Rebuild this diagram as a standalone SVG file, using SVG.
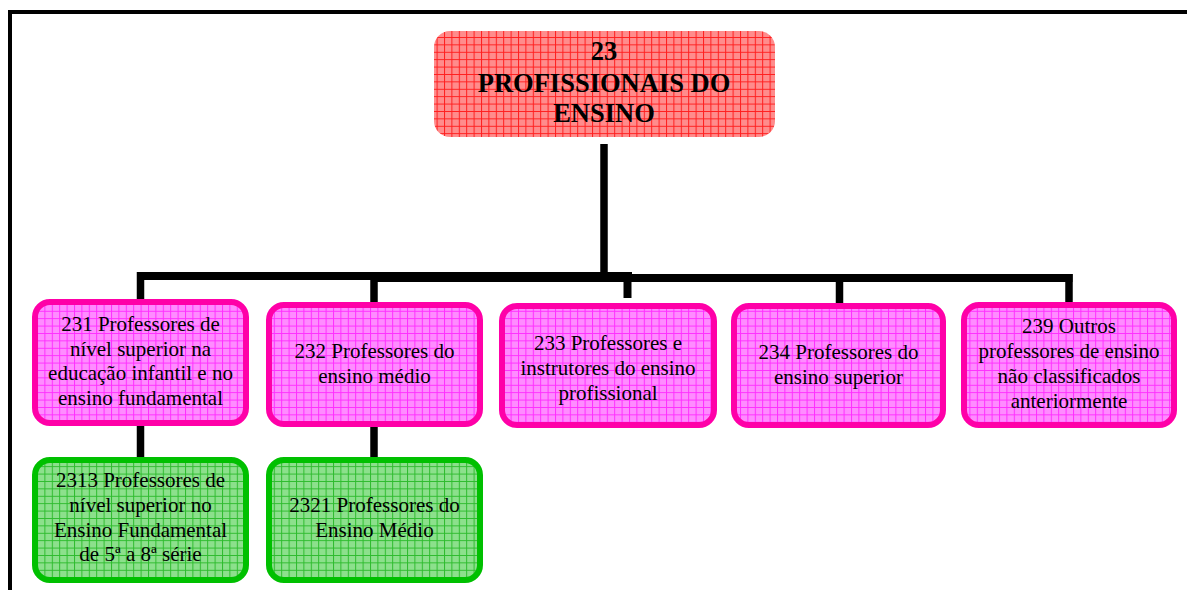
<svg xmlns="http://www.w3.org/2000/svg" width="1187" height="590" viewBox="0 0 1187 590">
<defs>
<pattern id="gRed" width="7.4" height="7.4" patternUnits="userSpaceOnUse">
<rect width="7.4" height="7.4" fill="#ff8c8c"/>
<path d="M0 0.5H7.4M0.5 0V7.4" stroke="#ff1e1e" stroke-width="1"/>
</pattern>
<pattern id="gPink" width="7.4" height="7.4" patternUnits="userSpaceOnUse">
<rect width="7.4" height="7.4" fill="#ff8cff"/>
<path d="M0 0.5H7.4M0.5 0V7.4" stroke="#ff2eff" stroke-width="1"/>
</pattern>
<pattern id="gGreen" width="7.4" height="7.4" patternUnits="userSpaceOnUse">
<rect width="7.4" height="7.4" fill="#8ce08c"/>
<path d="M0 0.5H7.4M0.5 0V7.4" stroke="#2dbb2d" stroke-width="1"/>
</pattern>
</defs>
<style>
.t{font-family:"Liberation Serif","Times New Roman",serif;font-size:21px;fill:#000;text-anchor:middle}
.h{font-family:"Liberation Serif","Times New Roman",serif;font-size:26.5px;font-weight:bold;fill:#000;text-anchor:middle}
.pk{fill:url(#gPink);stroke:#ff00a8;stroke-width:6}
.gr{fill:url(#gGreen);stroke:#00c000;stroke-width:6}
.ln{stroke:#000;fill:none}
</style>
<path d="M10 590V12H1187" stroke="#000" stroke-width="4" fill="none"/>
<g id="connectors">
<path class="ln" stroke-width="7.5" d="M604 144V280"/>
<path class="ln" stroke-width="8" d="M137 276H632"/>
<path class="ln" stroke-width="8" d="M372 278H1072.5"/>
<path class="ln" stroke-width="7.5" d="M140.5 272V301"/>
<path class="ln" stroke-width="7.5" d="M374 278V303"/>
<path class="ln" stroke-width="8" d="M627.5 278V298"/>
<path class="ln" stroke-width="7.5" d="M839.5 278V304"/>
<path class="ln" stroke-width="7.5" d="M1069 274V303"/>
<path class="ln" stroke-width="7.5" d="M140.5 421V458"/>
<path class="ln" stroke-width="7.5" d="M374 422V458"/>
</g>
<g id="n23">
<rect x="434" y="31" width="341" height="106" rx="16" fill="url(#gRed)"/>
<text class="h" x="604" y="60">23</text>
<text class="h" x="604" y="92">PROFISSIONAIS DO</text>
<text class="h" x="604" y="122">ENSINO</text>
</g>
<g id="n231">
<rect class="pk" x="35" y="302" width="211" height="121" rx="15"/>
<text class="t" x="140.5" y="331">231 Professores de</text>
<text class="t" x="140.5" y="355.5">nível superior na</text>
<text class="t" x="140.5" y="380">educação infantil e no</text>
<text class="t" x="140.5" y="404.5">ensino fundamental</text>
</g>
<g id="n232">
<rect class="pk" x="269" y="305" width="211" height="119" rx="15"/>
<text class="t" x="374.5" y="358">232 Professores do</text>
<text class="t" x="374.5" y="383">ensino médio</text>
</g>
<g id="n233">
<rect class="pk" x="502" y="306" width="212" height="119" rx="15"/>
<text class="t" x="608" y="350">233 Professores e</text>
<text class="t" x="608" y="375">instrutores do ensino</text>
<text class="t" x="608" y="400">profissional</text>
</g>
<g id="n234">
<rect class="pk" x="734" y="306" width="209" height="119" rx="15"/>
<text class="t" x="838.5" y="359">234 Professores do</text>
<text class="t" x="838.5" y="384">ensino superior</text>
</g>
<g id="n239">
<rect class="pk" x="964" y="305" width="210" height="120" rx="15"/>
<text class="t" x="1069" y="333">239 Outros</text>
<text class="t" x="1069" y="358">professores de ensino</text>
<text class="t" x="1069" y="383">não classificados</text>
<text class="t" x="1069" y="408">anteriormente</text>
</g>
<g id="n2313">
<rect class="gr" x="35" y="460" width="211" height="120" rx="15"/>
<text class="t" x="140.5" y="487">2313 Professores de</text>
<text class="t" x="140.5" y="512">nível superior no</text>
<text class="t" x="140.5" y="537">Ensino Fundamental</text>
<text class="t" x="140.5" y="561">de 5ª a 8ª série</text>
</g>
<g id="n2321">
<rect class="gr" x="269" y="460" width="211" height="120" rx="15"/>
<text class="t" x="374.5" y="512">2321 Professores do</text>
<text class="t" x="374.5" y="537">Ensino Médio</text>
</g>
</svg>
